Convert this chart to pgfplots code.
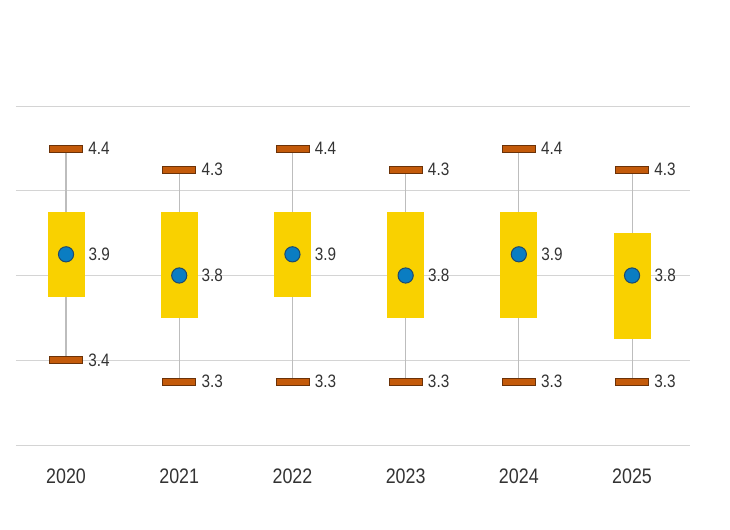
\documentclass[border=0pt]{standalone}
\usepackage{pgfplots}
\pgfplotsset{compat=1.18}
\usepackage{fontspec}
\setmainfont{Liberation Sans}[FakeStretch=0.85]

\definecolor{boxgold}{HTML}{F9D100}
\definecolor{capfill}{HTML}{C35A0A}
\definecolor{capdraw}{HTML}{6B3208}
\definecolor{dotfill}{HTML}{0A7DC2}
\definecolor{dotdraw}{HTML}{1D4A6E}
\definecolor{whisk}{HTML}{BDBDBD}
\definecolor{gridc}{HTML}{D4D4D4}
\definecolor{txt}{HTML}{333333}

\pgfdeclareplotmark{cap}{%
  \pgfpathrectangle{\pgfpoint{-16.5bp}{-3.5bp}}{\pgfpoint{33bp}{7bp}}%
  \pgfusepathqfillstroke}

\begin{document}
\begin{tikzpicture}
\begin{axis}[
  scale only axis, width=674bp, height=339bp,
  xmin=-0.442, xmax=5.512, ymin=3.0, ymax=4.6,
  clip=false,
  axis line style={draw=none},
  major tick length=0pt,
  ytick={3.0,3.4,3.8,4.2,4.6}, yticklabels={},
  ymajorgrids, grid style={draw=gridc, line width=0.9bp},
  xtick={0,...,5},
  xticklabels={2020,2021,2022,2023,2024,2025},
  xticklabel style={anchor=center, yshift=-31bp, text=txt,
    font=\fontsize{21bp}{24bp}\selectfont},
  unbounded coords=jump,
  /pgf/number format/assume math mode=true,
  every node near coord/.append style={anchor=west, xshift=21bp, yshift=0pt,
    text=txt, font=\fontsize{18bp}{21bp}\selectfont, inner sep=1bp},
]
% whiskers (low to high)
\addplot[draw=whisk, line width=1.1bp, mark=none] coordinates {
  (0,3.4) (0,4.4) (0,nan)
  (1,3.3) (1,4.3) (1,nan)
  (2,3.3) (2,4.4) (2,nan)
  (3,3.3) (3,4.3) (3,nan)
  (4,3.3) (4,4.4) (4,nan)
  (5,3.3) (5,4.3)
};
% boxes (lower to upper quartile)
\addplot[draw=boxgold, line width=37bp, line cap=butt, mark=none] coordinates {
  (0,3.7) (0,4.1) (0,nan)
  (1,3.6) (1,4.1) (1,nan)
  (2,3.7) (2,4.1) (2,nan)
  (3,3.6) (3,4.1) (3,nan)
  (4,3.6) (4,4.1) (4,nan)
  (5,3.5) (5,4.0)
};
% upper caps
\addplot[only marks, mark=cap, mark options={fill=capfill, draw=capdraw, line width=0.7bp},
  nodes near coords={\pgfmathprintnumber[fixed,fixed zerofill,precision=1]{\pgfplotspointmeta}}]
  coordinates {(0,4.4) (1,4.3) (2,4.4) (3,4.3) (4,4.4) (5,4.3)};
% lower caps
\addplot[only marks, mark=cap, mark options={fill=capfill, draw=capdraw, line width=0.7bp},
  nodes near coords={\pgfmathprintnumber[fixed,fixed zerofill,precision=1]{\pgfplotspointmeta}}]
  coordinates {(0,3.4) (1,3.3) (2,3.3) (3,3.3) (4,3.3) (5,3.3)};
% medians
\addplot[only marks, mark=*, mark size=7.6bp,
  mark options={fill=dotfill, draw=dotdraw, line width=1bp},
  nodes near coords={\pgfmathprintnumber[fixed,fixed zerofill,precision=1]{\pgfplotspointmeta}}]
  coordinates {(0,3.9) (1,3.8) (2,3.9) (3,3.8) (4,3.9) (5,3.8)};
\end{axis}
\useasboundingbox ([xshift=-16bp,yshift=-85bp]current axis.south west)
  rectangle ([xshift=40bp,yshift=106bp]current axis.north east);
\end{tikzpicture}
\end{document}
